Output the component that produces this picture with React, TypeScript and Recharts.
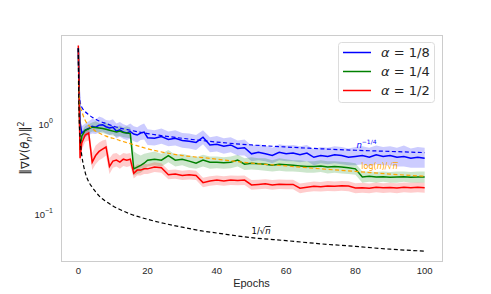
import React from 'react';
import { ComposedChart, Line, Area, XAxis, YAxis, Legend, ReferenceDot } from 'recharts';

// ---- data ----
const epochs = [0, 0.25, 0.5, 1, 2, 3, 4, 5, 6, 7, 8, 9, 10, 11, 12, 13, 14, 15, 16, 17, 18, 19, 20,
  22, 24, 26, 28, 30, 32, 34, 36, 38, 40, 42, 44, 46, 48, 50, 52, 54, 56, 58, 60, 62, 64, 66, 68, 70,
  72, 74, 76, 78, 80, 82, 84, 86, 88, 90, 92, 94, 96, 98, 100];

const blueMean = [7.0, 2.6, 1.05, 0.8, 0.86, 0.9, 0.95, 0.93, 0.98, 0.99, 0.94, 0.91, 0.93, 0.84, 0.87, 0.82, 0.8, 0.83, 0.78, 0.76, 0.8, 0.82, 0.71,
  0.7, 0.73, 0.68, 0.7, 0.66, 0.65, 0.63, 0.72, 0.59, 0.6, 0.57, 0.59, 0.54, 0.55, 0.47, 0.49, 0.47, 0.45, 0.49, 0.47, 0.48, 0.46, 0.48, 0.43, 0.45,
  0.44, 0.46, 0.45, 0.43, 0.44, 0.45, 0.43, 0.46, 0.44, 0.45, 0.43, 0.44, 0.42, 0.43, 0.42];
const blueHi = [8.0, 3.0, 1.25, 0.95, 1.02, 1.08, 1.15, 1.12, 1.22, 1.18, 1.12, 1.1, 1.14, 1.02, 1.06, 1.0, 0.97, 1.02, 0.95, 0.93, 0.98, 1.02, 0.88,
  0.86, 0.9, 0.83, 0.86, 0.8, 0.79, 0.76, 0.86, 0.72, 0.74, 0.7, 0.72, 0.66, 0.68, 0.58, 0.6, 0.58, 0.55, 0.6, 0.58, 0.59, 0.57, 0.59, 0.53, 0.56,
  0.55, 0.57, 0.56, 0.54, 0.56, 0.57, 0.55, 0.58, 0.56, 0.57, 0.55, 0.58, 0.54, 0.56, 0.55];
const blueLo = [6.2, 2.2, 0.88, 0.68, 0.72, 0.76, 0.79, 0.78, 0.81, 0.83, 0.79, 0.76, 0.78, 0.7, 0.73, 0.69, 0.67, 0.69, 0.65, 0.63, 0.67, 0.68, 0.59,
  0.58, 0.61, 0.57, 0.58, 0.55, 0.54, 0.52, 0.6, 0.49, 0.5, 0.47, 0.49, 0.45, 0.45, 0.39, 0.4, 0.39, 0.37, 0.4, 0.39, 0.39, 0.38, 0.39, 0.35, 0.37,
  0.36, 0.37, 0.36, 0.35, 0.35, 0.36, 0.34, 0.36, 0.35, 0.35, 0.34, 0.34, 0.33, 0.33, 0.33];

const greenMean = [7.0, 1.9, 0.52, 0.74, 0.86, 0.89, 0.93, 0.92, 0.91, 0.9, 0.88, 0.86, 0.84, 0.82, 0.84, 0.81, 0.8, 0.79, 0.32, 0.335, 0.35, 0.37, 0.4,
  0.41, 0.4, 0.45, 0.4, 0.41, 0.39, 0.37, 0.4, 0.38, 0.38, 0.375, 0.38, 0.4, 0.36, 0.37, 0.365, 0.36, 0.35, 0.36, 0.355, 0.35, 0.345, 0.34, 0.34, 0.345,
  0.335, 0.34, 0.335, 0.33, 0.32, 0.26, 0.265, 0.26, 0.262, 0.258, 0.26, 0.262, 0.258, 0.26, 0.26];
const greenHi = [7.8, 2.2, 0.6, 0.83, 0.96, 1.0, 1.05, 1.08, 1.03, 1.02, 1.05, 0.98, 0.95, 0.93, 0.97, 0.92, 0.95, 0.92, 0.5, 0.47, 0.45, 0.47, 0.48,
  0.5, 0.47, 0.52, 0.46, 0.47, 0.45, 0.43, 0.46, 0.44, 0.44, 0.43, 0.44, 0.46, 0.42, 0.43, 0.42, 0.42, 0.4, 0.42, 0.41, 0.4, 0.4, 0.39, 0.39, 0.4,
  0.39, 0.39, 0.385, 0.38, 0.37, 0.3, 0.3, 0.295, 0.3, 0.295, 0.3, 0.3, 0.295, 0.3, 0.3];
const greenLo = [6.3, 1.6, 0.45, 0.66, 0.77, 0.79, 0.83, 0.82, 0.81, 0.8, 0.78, 0.76, 0.75, 0.73, 0.74, 0.72, 0.71, 0.7, 0.27, 0.28, 0.29, 0.31, 0.34,
  0.35, 0.34, 0.38, 0.34, 0.35, 0.33, 0.32, 0.34, 0.32, 0.325, 0.32, 0.325, 0.34, 0.31, 0.315, 0.31, 0.305, 0.3, 0.305, 0.3, 0.3, 0.295, 0.29, 0.29, 0.295,
  0.285, 0.29, 0.285, 0.28, 0.275, 0.225, 0.23, 0.225, 0.23, 0.225, 0.225, 0.23, 0.225, 0.225, 0.225];

const redMean = [7.5, 1.8, 0.42, 0.62, 0.76, 0.8, 0.38, 0.45, 0.5, 0.53, 0.56, 0.34, 0.39, 0.4, 0.38, 0.41, 0.4, 0.41, 0.285, 0.31, 0.31, 0.32, 0.32,
  0.335, 0.33, 0.275, 0.28, 0.27, 0.275, 0.27, 0.225, 0.235, 0.24, 0.235, 0.24, 0.238, 0.24, 0.212, 0.215, 0.218, 0.212, 0.216, 0.214, 0.215, 0.195, 0.2, 0.205, 0.203,
  0.207, 0.205, 0.208, 0.206, 0.196, 0.198, 0.195, 0.2, 0.197, 0.199, 0.196, 0.2, 0.198, 0.2, 0.198];
const redHi = [8.5, 2.1, 0.5, 0.72, 0.88, 0.92, 0.48, 0.58, 0.63, 0.66, 0.68, 0.42, 0.47, 0.48, 0.45, 0.48, 0.47, 0.48, 0.33, 0.36, 0.355, 0.365, 0.36,
  0.38, 0.37, 0.31, 0.315, 0.305, 0.31, 0.305, 0.255, 0.265, 0.27, 0.265, 0.27, 0.268, 0.27, 0.24, 0.243, 0.246, 0.24, 0.244, 0.242, 0.243, 0.22, 0.226, 0.232, 0.229,
  0.234, 0.232, 0.235, 0.233, 0.222, 0.224, 0.22, 0.226, 0.222, 0.225, 0.222, 0.226, 0.224, 0.226, 0.224];
const redLo = [6.5, 1.5, 0.35, 0.52, 0.64, 0.66, 0.31, 0.36, 0.4, 0.42, 0.45, 0.28, 0.33, 0.34, 0.32, 0.345, 0.335, 0.345, 0.25, 0.27, 0.27, 0.28, 0.28,
  0.295, 0.29, 0.245, 0.248, 0.24, 0.244, 0.24, 0.2, 0.208, 0.212, 0.208, 0.212, 0.21, 0.212, 0.188, 0.19, 0.193, 0.188, 0.191, 0.19, 0.19, 0.172, 0.177, 0.18, 0.179,
  0.182, 0.18, 0.183, 0.181, 0.172, 0.174, 0.171, 0.176, 0.173, 0.175, 0.172, 0.176, 0.174, 0.176, 0.174];

// reference rate curves (dashed)
const refEpochs = [0, 0.1, 0.25, 0.5, 1, 1.5, 2, 3, 4, 5, 6, 8, 10, 12, 15, 20, 25, 30, 35, 40, 50, 60, 70, 80, 90, 100];
const invSqrtN = [7.0, 2.5, 1.2, 0.72, 0.45, 0.35, 0.29, 0.23, 0.2, 0.178, 0.16, 0.139, 0.124, 0.113, 0.101, 0.088, 0.079, 0.072, 0.066, 0.062, 0.055, 0.051, 0.047, 0.044, 0.041, 0.039];
const nQuarter = [7.0, 3.0, 2.2, 1.8, 1.55, 1.45, 1.38, 1.28, 1.2, 1.14, 1.09, 1.02, 0.96, 0.91, 0.86, 0.79, 0.74, 0.7, 0.665, 0.635, 0.59, 0.56, 0.535, 0.515, 0.5, 0.485];
const logSqrtN = [3.0, 2.6, 2.1, 1.6, 1.4, 1.22, 1.1, 0.97, 0.9, 0.84, 0.8, 0.74, 0.7, 0.66, 0.61, 0.535, 0.485, 0.45, 0.43, 0.41, 0.37, 0.345, 0.32, 0.3, 0.28, 0.265];

const xTicks = [0, 20, 40, 60, 80, 100];
const yTicks = [0.1, 1];
const legendItems = [
  { label: '1/8', color: '#0000ff' },
  { label: '1/4', color: '#008000' },
  { label: '1/2', color: '#ff0000' },
];

const data = epochs.map((x, i) => ({
  x,
  blue: blueMean[i], blueBand: [blueLo[i], blueHi[i]],
  green: greenMean[i], greenBand: [greenLo[i], greenHi[i]],
  red: redMean[i], redBand: [redLo[i], redHi[i]],
}));
const refData = refEpochs.map((x, i) => ({ x, inv: invSqrtN[i], quarter: nQuarter[i], logs: logSqrtN[i] }));

const TXT = '#262626';
const SANS = 'Liberation Sans, Arial, sans-serif';
const MATH = 'DejaVu Sans, sans-serif';

const YTick = (props: any) => {
  const { x, y, payload } = props;
  const e = Math.round(Math.log10(payload.value));
  return (
    <text x={x} y={y} dy={3.5} textAnchor="end" fill={TXT} fontSize={9.5} fontFamily={SANS}>
      10<tspan dy={-4.5} fontSize={7}>{e < 0 ? '\u2212' + String(-e) : String(e)}</tspan>
    </text>
  );
};

const LegendBox = () => (
  <svg width={97} height={61} style={{ display: 'block' }}>
    <rect x={0.5} y={0.5} width={96} height={60} rx={3} fill="rgba(255,255,255,0.8)" stroke="#dcdcdc" />
    {legendItems.map((it, i) => (
      <g key={it.label}>
        <line x1={5} x2={33} y1={10.5 + i * 19} y2={10.5 + i * 19} stroke={it.color} strokeWidth={1.5} />
        <text x={43} y={15 + i * 19} fill={TXT} fontSize={13} fontFamily={MATH}>
          <tspan fontStyle="italic">α</tspan> = {it.label}
        </text>
      </g>
    ))}
  </svg>
);

export default function App() {
  return (
    <div style={{ position: 'absolute', left: 0, top: 0, width: 491, height: 294, background: '#fff' }}>
      <ComposedChart width={491} height={294} data={data} margin={{ top: 35, right: 49, bottom: 0, left: 0 }}>
        <XAxis
          dataKey="x" type="number" domain={[-5, 105]} ticks={xTicks} allowDataOverflow
          tickLine={false} axisLine={false} tickMargin={0}
          tick={{ fill: TXT, fontSize: 9.5, fontFamily: SANS }} height={33}
          label={{
            content: () => (
              <text x={251.5} y={287} textAnchor="middle" fill={TXT} fontSize={11} fontFamily={SANS}>Epochs</text>
            ),
          }}
        />
        <YAxis
          type="number" scale="log" domain={[0.0303, 9.83]} ticks={yTicks} allowDataOverflow
          tickLine={false} axisLine={false} width={61} tick={<YTick />}
          label={{
            content: () => (
              <g transform="translate(29,148) rotate(-90)">
                <text x={0} y={0} textAnchor="middle" fill={TXT} fontSize={11.5} fontFamily={MATH}>
                  ‖∇<tspan fontStyle="italic">V</tspan>(<tspan fontStyle="italic">θ</tspan><tspan fontStyle="italic" fontSize={8} dy={2.5}>n</tspan><tspan dy={-2.5}>)‖</tspan><tspan fontSize={8} dy={-5}>2</tspan>
                </text>
              </g>
            ),
          }}
        />
        <Area dataKey="blueBand" type="linear" stroke="none" fill="#0000ff" fillOpacity={0.2} isAnimationActive={false} dot={false} activeDot={false} />
        <Area dataKey="greenBand" type="linear" stroke="none" fill="#008000" fillOpacity={0.2} isAnimationActive={false} dot={false} activeDot={false} />
        <Area dataKey="redBand" type="linear" stroke="none" fill="#ff0000" fillOpacity={0.2} isAnimationActive={false} dot={false} activeDot={false} />
        <Line dataKey="blue" type="linear" stroke="#0000ff" strokeWidth={1.5} dot={false} activeDot={false} isAnimationActive={false} />
        <Line dataKey="green" type="linear" stroke="#008000" strokeWidth={1.5} dot={false} activeDot={false} isAnimationActive={false} />
        <Line dataKey="red" type="linear" stroke="#ff0000" strokeWidth={1.5} dot={false} activeDot={false} isAnimationActive={false} />
        <Line data={refData} dataKey="quarter" type="monotone" stroke="#0000ff" strokeWidth={1.2} strokeDasharray="4 2.5" dot={false} activeDot={false} isAnimationActive={false} />
        <Line data={refData} dataKey="logs" type="monotone" stroke="#ffa500" strokeWidth={1.2} strokeDasharray="4 2.5" dot={false} activeDot={false} isAnimationActive={false} />
        <Line data={refData} dataKey="inv" type="monotone" stroke="#000000" strokeWidth={1.2} strokeDasharray="4 2.5" dot={false} activeDot={false} isAnimationActive={false} />
        <ReferenceDot x={80.3} y={0.545} r={0} fill="none" stroke="none"
          label={(p: any) => (
            <text x={p.viewBox.x} y={p.viewBox.y} fill="#0000ff" fontSize={8.5} fontFamily={MATH}>
              <tspan fontStyle="italic">n</tspan><tspan dy={-4} fontSize={6}>−1/4</tspan>
            </text>
          )} />
        <ReferenceDot x={81.7} y={0.319} r={0} fill="none" stroke="none"
          label={(p: any) => (
            <text x={p.viewBox.x} y={p.viewBox.y} fill="#ffa500" fontSize={8} fontFamily={MATH}>
              log(<tspan fontStyle="italic">n</tspan>)/√<tspan fontStyle="italic" textDecoration="overline">n</tspan>
            </text>
          )} />
        <ReferenceDot x={50} y={0.0604} r={0} fill="none" stroke="none"
          label={(p: any) => (
            <text x={p.viewBox.x} y={p.viewBox.y} fill="#000000" fontSize={8.5} fontFamily={MATH}>
              1/√<tspan fontStyle="italic" textDecoration="overline">n</tspan>
            </text>
          )} />
        <Legend layout="vertical" align="center" verticalAlign="middle" content={() => <LegendBox />}
          wrapperStyle={{ position: 'absolute', left: 338, top: 42, width: 97, height: 61 }} />
      </ComposedChart>
      <div style={{ position: 'absolute', left: 60.5, top: 34.5, width: 382, height: 227, boxSizing: 'border-box', border: '1.2px solid #cccccc', pointerEvents: 'none' }} />
    </div>
  );
}
